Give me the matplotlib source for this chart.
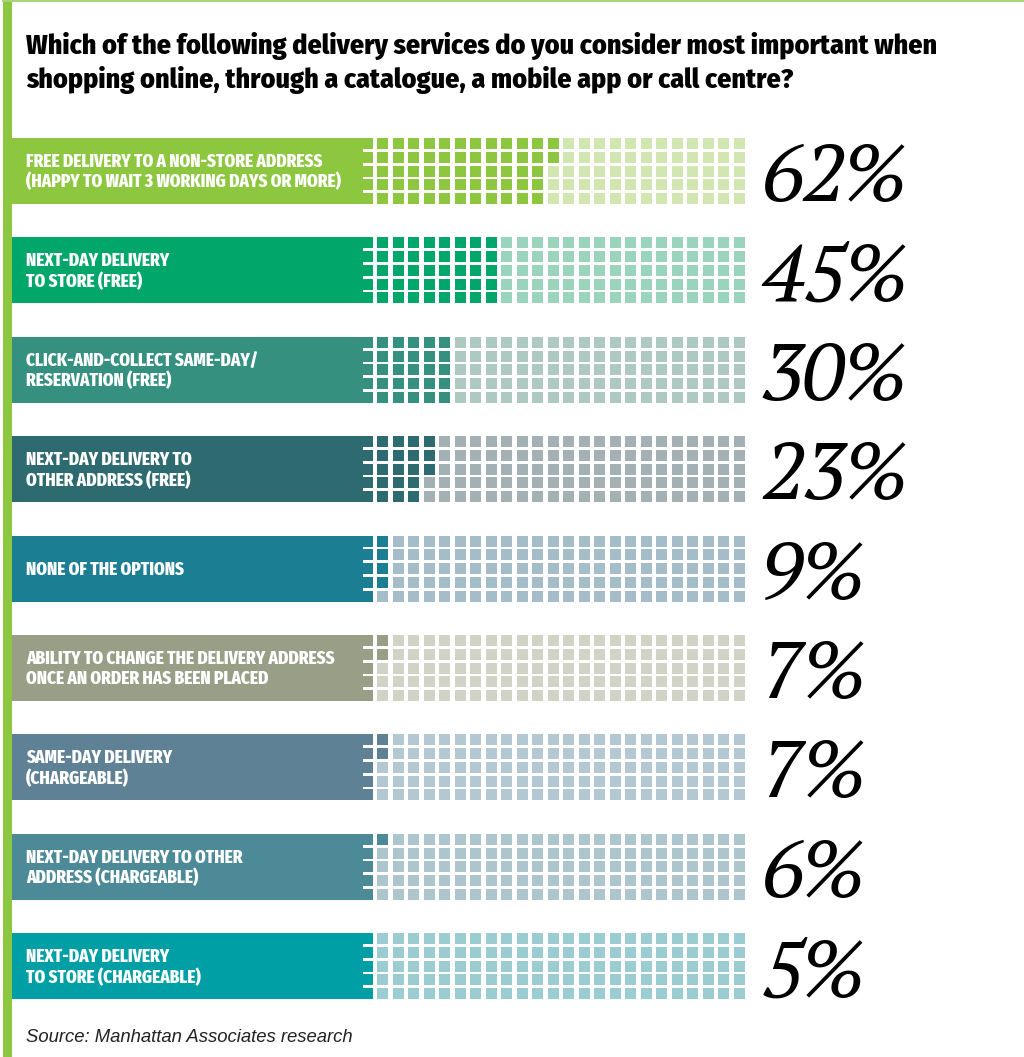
import matplotlib.pyplot as plt
from matplotlib.patches import Rectangle

# Survey answers, top to bottom
labels = [
    "FREE DELIVERY TO A NON-STORE ADDRESS\n(HAPPY TO WAIT 3 WORKING DAYS OR MORE)",
    "NEXT-DAY DELIVERY\nTO STORE (FREE)",
    "CLICK-AND-COLLECT SAME-DAY/\nRESERVATION (FREE)",
    "NEXT-DAY DELIVERY TO\nOTHER ADDRESS (FREE)",
    "NONE OF THE OPTIONS",
    "ABILITY TO CHANGE THE DELIVERY ADDRESS\nONCE AN ORDER HAS BEEN PLACED",
    "SAME-DAY DELIVERY\n(CHARGEABLE)",
    "NEXT-DAY DELIVERY TO OTHER\nADDRESS (CHARGEABLE)",
    "NEXT-DAY DELIVERY\nTO STORE (CHARGEABLE)",
]
values = [62, 45, 30, 23, 9, 7, 7, 6, 5]

dark = ['#8dc63f', '#00a66a', '#35907f', '#2e6b70', '#1b7e93',
        '#999f86', '#5f8196', '#4b8a96', '#009ea5']
light = ['#d1e6b0', '#9bd4bc', '#adc9c1', '#a3b0b4', '#a5bdc8',
         '#d1d3c7', '#b3c8d2', '#adc5cc', '#9accd2']

title = ["Which of the following delivery services do you consider most important when",
         "shopping online, through a catalogue, a mobile app or call centre?"]
source = "Source: Manhattan Associates research"

HEAD = ['Fira Sans Condensed', 'DejaVu Sans']
TAG = ['Fira Sans Extra Condensed', 'Fira Sans Condensed', 'DejaVu Sans']
NUM = ['PT Serif', 'DejaVu Serif']

fig = plt.figure(figsize=(10.24, 10.57), dpi=100)
ax = fig.add_axes([0, 0, 1, 1])
ax.set_xlim(0, 1024)
ax.set_ylim(1057, 0)
ax.axis('off')
renderer = fig.canvas.get_renderer()


def fit_width(txt, width):
    # rescale a text object so that it is `width` pixels wide
    bb = txt.get_window_extent(renderer)
    txt.set_fontsize(txt.get_fontsize() * width / bb.width)
    return txt.get_fontsize()


# green stripe down the left and thin rule along the top
ax.add_patch(Rectangle((3, 2), 9, 1055, color='#8dc63f', lw=0))
ax.plot([3, 1024], [1, 1], color='#a9d377', lw=1.5)

# title, two lines
t1 = ax.text(26, 54, title[0], fontsize=20, fontweight='heavy', family=HEAD,
             va='baseline', color='black')
size = fit_width(t1, 911)
ax.text(26, 88, title[1], fontsize=size, fontweight='heavy', family=HEAD,
        va='baseline', color='black')

# one size for all row labels, taken from the widest label line
probe = ax.text(0, 0, labels[0].split('\n')[1], fontsize=13, fontweight='heavy', family=TAG)
lab_size = fit_width(probe, 315)
probe.remove()

# one size for the big percentages
probe = ax.text(0, 0, f"{values[0]}%", fontsize=50, family=NUM, style='italic')
num_size = fit_width(probe, 147)
probe.remove()

n_cols, n_rows = 25, 5
x0, dx, dy, sq = 361.5, 15.52, 13.75, 11
top0, pitch, box_h = 138, 99.4, 66

for i, (lab, v) in enumerate(zip(labels, values)):
    top = top0 + i * pitch
    ax.add_patch(Rectangle((12, top), 351, box_h, color=dark[i], lw=0))
    # waffle of squares, one per percent, filled column by column
    for k in range(n_cols * n_rows):
        c, r = divmod(k, n_rows)
        ax.add_patch(Rectangle((x0 + c * dx, top + r * dy), sq, sq,
                               color=dark[i] if k < v else light[i], lw=0))
    ax.text(26, top + box_h / 2 + 1, lab, fontsize=lab_size, fontweight='heavy',
            family=TAG, color='white', va='center', ha='left', linespacing=1.15)
    ax.text(762, top + 63, f"{v}%", fontsize=num_size, family=NUM,
            style='italic', va='baseline', ha='left', color='black')

src = ax.text(26, 1042, source, fontsize=13, family='Liberation Sans', style='italic',
              va='baseline', color='#222222')
fit_width(src, 326)

fig.savefig('out.png', dpi=100)
